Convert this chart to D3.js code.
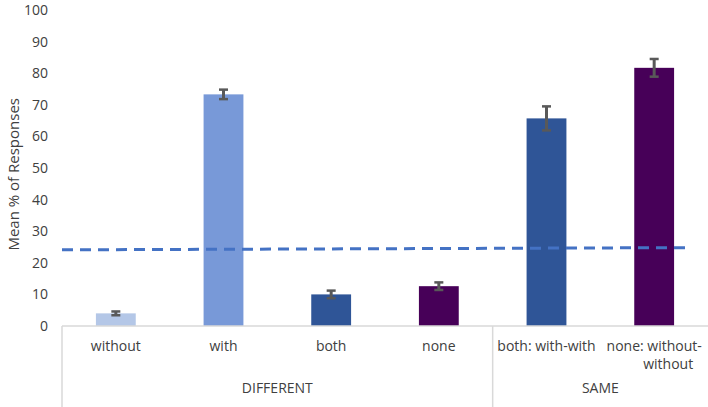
<!DOCTYPE html>
<html>
<head>
<meta charset="utf-8">
<script src="https://cdn.jsdelivr.net/npm/d3@7"></script>
<style>
body { margin: 0; background: #fff; }
svg { display: block; font-family: "Open Sans", "Liberation Sans", sans-serif; }
</style>
</head>
<body>
<svg width="708" height="407"></svg>
<script>
var categories = ["without", "with", "both", "none", "both: with-with", "none: without-without"];
var groups = ["DIFFERENT", "DIFFERENT", "DIFFERENT", "DIFFERENT", "SAME", "SAME"];
var values = [4.0, 73.3, 10.0, 12.6, 65.7, 81.7];
var errors = [0.6, 1.5, 1.2, 1.2, 3.8, 2.8];
var colors = ["#b4c7e7", "#7899d8", "#2f5597", "#470058", "#2f5597", "#470058"];
var yTicks = [0, 10, 20, 30, 40, 50, 60, 70, 80, 90, 100];
// dashed reference line: [category position, value]
var refLine = [[0, 24.1], [5.8, 24.8]];

var svg = d3.select("svg");
var mLeft = 62, mRight = 708, mTop = 10, mBottom = 326;

var x = d3.scaleBand().domain(categories).range([mLeft, mRight]).paddingInner(0.63).paddingOuter(0.315);
var xPos = d3.scaleLinear().domain([0, categories.length]).range([mLeft, mRight]);
var y = d3.scaleLinear().domain([0, 100]).range([mBottom, mTop]);

// y tick labels
var yAxis = d3.axisLeft(y).tickValues(yTicks).tickSize(0).tickPadding(14);
var gy = svg.append("g").attr("transform", "translate(" + mLeft + ",0)").call(yAxis);
gy.select(".domain").remove();
gy.selectAll("text").attr("font-size", 14).attr("fill", "#404040")
	.attr("font-family", "'Open Sans', sans-serif");

svg.append("text")
	.attr("transform", "translate(19," + (y(48)) + ") rotate(-90)")
	.attr("text-anchor", "middle")
	.attr("font-size", 15)
	.attr("fill", "#404040")
	.text("Mean % of  Responses");

// bars
svg.selectAll("rect.bar").data(categories).enter().append("rect")
	.attr("class", "bar")
	.attr("x", function(d) { return x(d); })
	.attr("y", function(d, i) { return y(values[i]); })
	.attr("width", x.bandwidth())
	.attr("height", function(d, i) { return y(0) - y(values[i]); })
	.attr("fill", function(d, i) { return colors[i]; });

// dashed line
svg.append("path")
	.datum(refLine)
	.attr("d", d3.line().x(function(d) { return xPos(d[0]); }).y(function(d) { return y(d[1]); }))
	.attr("fill", "none")
	.attr("stroke", "#4472c4")
	.attr("stroke-width", 3)
	.attr("stroke-dasharray", "11,7");

// error bars
var eb = svg.selectAll("g.err").data(categories).enter().append("g").attr("class", "err");
eb.append("line")
	.attr("x1", function(d) { return x(d) + x.bandwidth() / 2; })
	.attr("x2", function(d) { return x(d) + x.bandwidth() / 2; })
	.attr("y1", function(d, i) { return y(values[i] + errors[i]); })
	.attr("y2", function(d, i) { return y(values[i] - errors[i]); })
	.attr("stroke", "#595959").attr("stroke-width", 3);
[1, -1].forEach(function(s) {
	eb.append("line")
		.attr("x1", function(d) { return x(d) + x.bandwidth() / 2 - 4.5; })
		.attr("x2", function(d) { return x(d) + x.bandwidth() / 2 + 4.5; })
		.attr("y1", function(d, i) { return y(values[i] + s * errors[i]); })
		.attr("y2", function(d, i) { return y(values[i] + s * errors[i]); })
		.attr("stroke", "#595959").attr("stroke-width", 2.5);
});

// x axis line and group separators
svg.append("line").attr("x1", mLeft).attr("x2", mRight).attr("y1", mBottom).attr("y2", mBottom)
	.attr("stroke", "#d9d9d9").attr("stroke-width", 1.5);
var groupNames = Array.from(new Set(groups));
var sepIdx = [0];
groupNames.forEach(function(g) { sepIdx.push(groups.lastIndexOf(g) + 1); });
svg.selectAll("line.sep").data(sepIdx.slice(0, -1)).enter().append("line")
	.attr("class", "sep")
	.attr("x1", function(d) { return xPos(d); })
	.attr("x2", function(d) { return xPos(d); })
	.attr("y1", mBottom).attr("y2", 407)
	.attr("stroke", "#d9d9d9").attr("stroke-width", 1.5);

// category labels
var catLines = [["without"], ["with"], ["both"], ["none"], ["both: with-with"], ["none: without-", "without"]];
svg.selectAll("text.cat").data(categories).enter().append("text")
	.attr("class", "cat")
	.attr("text-anchor", "middle")
	.attr("font-size", 14)
	.attr("fill", "#404040")
	.each(function(d, i) {
		var t = d3.select(this);
		catLines[i].forEach(function(line, k) {
			t.append("tspan")
				.attr("x", x(d) + x.bandwidth() / 2 + (i === 5 && k === 1 ? 14 : 0))
				.attr("y", 351 + k * 18)
				.text(line);
		});
	});

// group labels
svg.selectAll("text.grp").data(groupNames).enter().append("text")
	.attr("class", "grp")
	.attr("text-anchor", "middle")
	.attr("font-size", 14)
	.attr("fill", "#404040")
	.attr("x", function(g) { return (xPos(groups.indexOf(g)) + xPos(groups.lastIndexOf(g) + 1)) / 2; })
	.attr("y", 393)
	.text(function(g) { return g; });
</script>
</body>
</html>
